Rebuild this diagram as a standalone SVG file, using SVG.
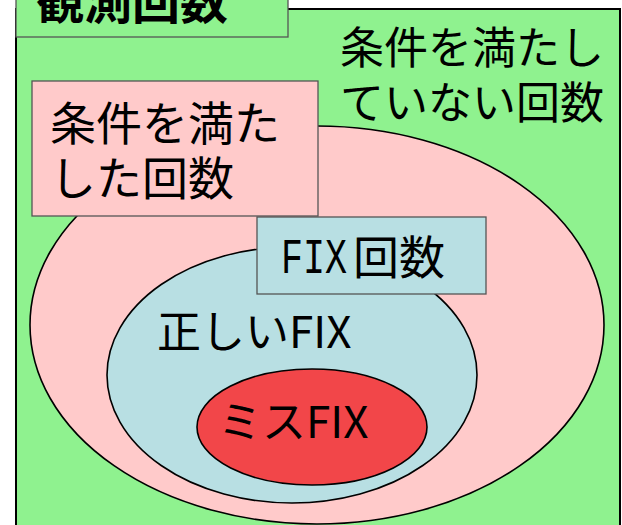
<svg xmlns="http://www.w3.org/2000/svg" width="622" height="525" viewBox="0 0 622 525">
<style>
.t{font-family:"Noto Sans CJK JP","Noto Sans",sans-serif;fill:#000}
.box{stroke:#555;stroke-width:1.3}
.ell{stroke:#000;stroke-width:1.6}
.mono{font-family:"Liberation Mono","DejaVu Sans Mono",monospace;fill:#000}
</style>
<rect width="622" height="525" fill="#fff"/>
<g id="observed">
<rect x="16" y="9" width="604" height="530" fill="#8ff28f" stroke="#000" stroke-width="2"/>
<rect class="box" x="16" y="-3" width="272" height="40" fill="#8ff28f"/>
<text class="t" x="36" y="19" font-size="48" font-weight="bold">観測回数</text>
</g>
<g id="not-satisfied">
<text class="t" x="340" y="64" font-size="44">条件を満たし</text>
<text class="t" x="340" y="119" font-size="44">ていない回数</text>
</g>
<g id="satisfied">
<ellipse class="ell" cx="317" cy="325" rx="287" ry="199" fill="#ffcaca"/>
<rect class="box" x="32" y="81" width="286" height="135" fill="#ffcaca"/>
<text class="t" x="50" y="140" font-size="46">条件を満た</text>
<text class="t" x="50" y="195" font-size="46">した回数</text>
</g>
<g id="fix">
<ellipse class="ell" cx="292" cy="375" rx="185" ry="128" fill="#b8dfe3"/>
<rect class="box" x="257" y="217" width="229" height="77" fill="#b8dfe3"/>
<text class="mono" x="281" y="273" font-size="50" textLength="66" lengthAdjust="spacingAndGlyphs">FIX</text>
<text class="t" x="353" y="274" font-size="46">回数</text>
</g>
<g id="correct-fix">
<text class="t" x="157" y="348" font-size="44">正しいFIX</text>
</g>
<g id="miss-fix">
<ellipse class="ell" cx="312" cy="427" rx="115" ry="58" fill="#f24649"/>
<text class="t" x="218" y="438" font-size="44">ミスFIX</text>
</g>
</svg>
